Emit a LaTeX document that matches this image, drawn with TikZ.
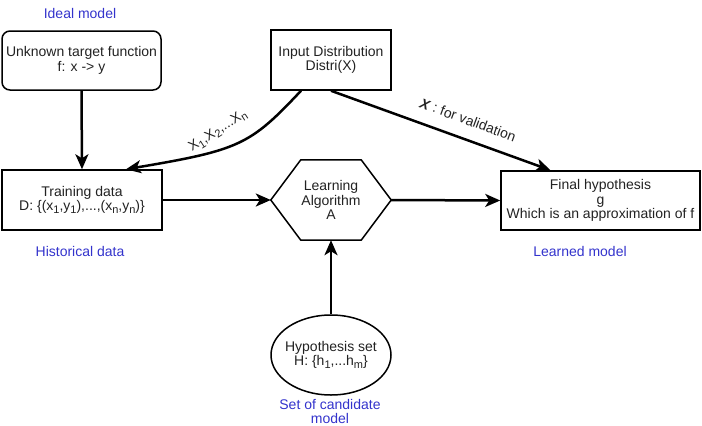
\documentclass[tikz,border=0pt]{standalone}
\usepackage{fontspec}
\setmainfont{Liberation Sans}
\usetikzlibrary{arrows.meta,shapes.geometric}
\definecolor{labelblue}{RGB}{51,51,204}
\definecolor{ink}{RGB}{34,34,34}
\newcommand{\lsub}[1]{\raisebox{-0.45ex}{\fontsize{11}{11}\selectfont #1}}

\begin{document}
\begin{tikzpicture}[x=1pt,y=-1pt,
  txt/.style={text=ink, align=center, font=\fontsize{14}{14.5}\selectfont},
  box/.style={txt, draw=black, line width=1.5pt, inner sep=0pt},
  note/.style={text=labelblue, align=center, font=\fontsize{14}{14}\selectfont},
  arr/.style={line width=2.5pt, -{Stealth[length=15pt,width=13pt,inset=4pt]}},
]
\useasboundingbox (0,0) rectangle (702,426);

% main blocks
\node[box, rounded corners=8pt, minimum width=159pt, minimum height=59pt] (unk) at (81.5,60.5)
  {Unknown target function\\f: x -> y};
\node[box, minimum width=120pt, minimum height=60pt] (inp) at (331,60)
  {Input Distribution\\Distri(X)};
\node[box, minimum width=160pt, minimum height=60pt] (train) at (82,200)
  {Training data\\D: \{(x\lsub{1},y\lsub{1}),...,(x\lsub{n},y\lsub{n})\}};
\node[txt, minimum width=120pt, minimum height=80pt, inner sep=0pt] (alg) at (331,200)
  {Learning\\Algorithm\\A};
\draw[line width=1.5pt] (alg.west) -- ([xshift=30pt]alg.north west) -- ([xshift=-30pt]alg.north east)
  -- (alg.east) -- ([xshift=-30pt]alg.south east) -- ([xshift=30pt]alg.south west) -- cycle;
\node[box, minimum width=199pt, minimum height=59pt] (fin) at (600.5,200.5)
  {Final hypothesis\\g\\Which is an approximation of f};
\node[draw=black, line width=1.5pt, ellipse, inner sep=0pt, minimum width=120pt, minimum height=80pt] (hyp) at (331,355) {};
\node[txt] (hyptext) at (hyp.center) {Hypothesis set\\H: \{h\lsub{1},...h\lsub{m}\}};

% captions
\node[note] (capideal) at (80,13) {Ideal model};
\node[note] (caphist) at (80,251) {Historical data};
\node[note] (caplearn) at (580,251) {Learned model};
\node[note] (capcand) at (330,411) {Set of candidate\\model};

% connectors
\draw[arr] (unk.south) -- (train.north);
\draw[arr] ([xshift=-30pt]inp.south) .. controls (250,145) and (240,150) .. ([xshift=44pt]train.north);
\draw[arr] (inp.south) -- ([xshift=-50pt]fin.north);
\draw[arr] (train.east) -- (alg.west);
\draw[arr] (alg.east) -- (fin.west);
\draw[arr] (hyp.north) -- (alg.south);

% connector labels
\node[txt, rotate=33] (lblsample) at (218,131) {X\lsub{1},X\lsub{2},...X\lsub{n}};
\node[txt, rotate=-20.3] (lblvalid) at (468,120) {\textbf{\textit{X}} : for validation};
\end{tikzpicture}
\end{document}
